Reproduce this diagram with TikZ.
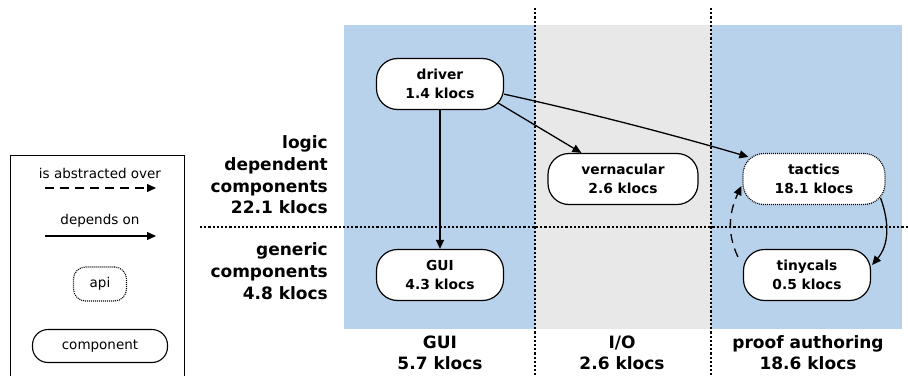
\documentclass[tikz,border=0pt]{standalone}
\usepackage{fontspec}
\setmainfont{DejaVu Sans}
\usetikzlibrary{arrows.meta,calc}
\definecolor{colblue}{RGB}{185,210,236}
\definecolor{colgray}{RGB}{232,232,232}
\begin{document}
\begin{tikzpicture}[x=1pt,y=1pt,
  comp/.style={draw, line width=1.2pt, rectangle, rounded corners=21pt, fill=white, minimum width=127pt, minimum height=51pt, align=center, inner sep=0pt, font=\fontsize{13.8}{19}\selectfont\bfseries},
  apibox/.style={dash pattern=on 1pt off 1pt},
  lgcomp/.style={draw, line width=1.1pt, rectangle, fill=white, align=center, inner sep=0pt, font=\fontsize{13.5}{16}\selectfont},
  lgtext/.style={font=\fontsize{13.5}{16}\selectfont},
  rowlab/.style={align=right, font=\fontsize{17}{21.7}\selectfont\bfseries, inner sep=0pt},
  collab/.style={align=center, font=\fontsize{17}{21}\selectfont\bfseries, inner sep=0pt},
  divider/.style={line width=2.2pt, dash pattern=on 2.2pt off 2pt},
  dep/.style={line width=1.3pt, -{Triangle[length=9pt,width=8pt]}},
  abs/.style={dep, dash pattern=on 9pt off 6pt},
]
\useasboundingbox (0,0) rectangle (908,-375);
% background regions
\fill[colblue] (344,-25) rectangle (535,-329);
\fill[colgray] (535,-25) rectangle (711,-329);
\fill[colblue] (711,-25) rectangle (902,-329);
% dividers
\draw[divider] (535,-8) -- (535,-375);
\draw[divider] (711,-8) -- (711,-375);
\draw[divider] (200,-227) -- (908,-227);
% legend box
\draw[line width=1pt] (10,-376) -- (10,-155) -- (184,-155) -- (184,-376);
\node[lgtext] (labs) at (100,-173) {is abstracted over};
\coordinate (a1) at (45,-188);
\coordinate (a2) at (156,-188);
\draw[abs] (a1) -- (a2);
\node[lgtext] (ldep) at (100,-221) {depends on};
\coordinate (d1) at (45,-236);
\coordinate (d2) at (156,-236);
\draw[dep] (d1) -- (d2);
\node[lgcomp, apibox, rounded corners=12pt, minimum width=53pt, minimum height=34pt] (lapi) at (100,-284) {api};
\node[lgcomp, rounded corners=15.5pt, minimum width=135pt, minimum height=33pt] (lcomp) at (100,-346) {component};
% row labels
\node[rowlab, anchor=east] (logic) at (328,-175) {logic\\dependent\\components\\22.1 klocs};
\node[rowlab, anchor=east] (generic) at (328,-271) {generic\\components\\4.8 klocs};
% column labels
\node[collab] (cgui) at (440,-353) {GUI\\5.7 klocs};
\node[collab] (cio) at (622,-353) {I/O\\2.6 klocs};
\node[collab] (cproof) at (808,-353) {proof authoring\\18.6 klocs};
% components
\node[comp] (driver) at (440,-84) {driver\\1.4 klocs};
\node[comp] (gui) at (440,-275) {GUI\\4.3 klocs};
\node[comp, minimum width=150pt] (vern) at (623,-179) {vernacular\\2.6 klocs};
\node[comp, apibox, minimum width=142pt] (tactics) at (814,-179) {tactics\\18.1 klocs};
\node[comp] (tiny) at (807,-275) {tinycals\\0.5 klocs};
% connectors
\draw[dep] (driver) -- (gui);
\draw[dep] ($(driver.east)+(-6,-19)$) -- ($(vern.north west)+(34,0)$);
\draw[dep] (driver.-9) .. controls (585,-112) and (667,-133) .. ($(tactics.north west)+(6,-4)$);
\draw[dep] ($(tactics.south east)+(-5,7)$) to[out=-70, in=50] ($(tiny.east)+(1,10)$);
\draw[abs] ($(tiny.north west)+(-5,-8)$) to[out=115, in=-115] ($(tactics.west)+(-1,-7)$);
\end{tikzpicture}
\end{document}
